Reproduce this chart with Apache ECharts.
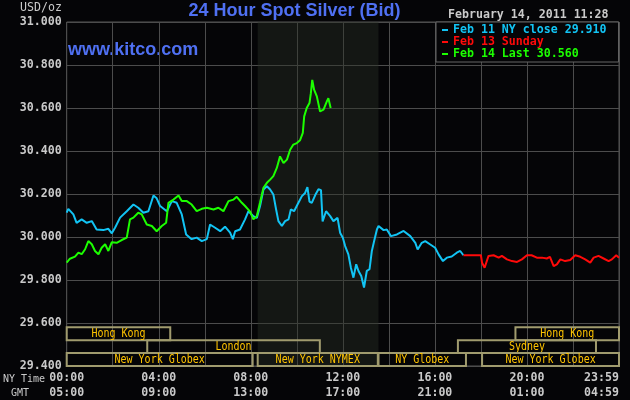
<!DOCTYPE html>
<html>
<head>
<meta charset="utf-8">
<script src="https://cdn.jsdelivr.net/npm/echarts@6/dist/echarts.min.js"></script>
<style>
  html, body { margin: 0; padding: 0; background: #050507; }
  #chart { width: 630px; height: 400px; }
</style>
</head>
<body>
<div id="chart"></div>
<script>
// ---------- data ----------
const seriesNames = ['Feb 11 NY close 29.910', 'Feb 13 Sunday', 'Feb 14 Last 30.560'];

const feb11Hours = [0, 0.07, 0.29, 0.43, 0.65, 0.87, 1.09, 1.30, 1.59, 1.81, 1.96, 2.10, 2.32, 2.61, 2.90, 3.11, 3.33, 3.55, 3.77, 3.91, 4.06, 4.35, 4.57, 4.78, 5.00, 5.19, 5.43, 5.65, 5.87, 6.09, 6.23, 6.45, 6.67, 6.88, 7.10, 7.22, 7.32, 7.53, 7.75, 7.90, 7.97, 8.11, 8.26, 8.40, 8.55, 8.70, 8.84, 8.98, 9.10, 9.20, 9.35, 9.49, 9.64, 9.74, 9.88, 10.03, 10.22, 10.36, 10.46, 10.55, 10.65, 10.80, 10.94, 11.05, 11.12, 11.27, 11.45, 11.59, 11.77, 11.88, 12.00, 12.10, 12.24, 12.35, 12.46, 12.58, 12.68, 12.80, 12.92, 13.04, 13.16, 13.26, 13.36, 13.48, 13.55, 13.77, 13.91, 14.09, 14.35, 14.64, 14.93, 15.15, 15.25, 15.43, 15.58, 15.80, 16.01, 16.16, 16.35, 16.52, 16.73, 16.95, 17.10, 17.24];
const feb11Values = [30.113, 30.131, 30.105, 30.066, 30.082, 30.066, 30.074, 30.035, 30.032, 30.038, 30.017, 30.043, 30.090, 30.120, 30.151, 30.136, 30.113, 30.120, 30.193, 30.180, 30.144, 30.120, 30.167, 30.159, 30.105, 30.012, 29.990, 29.997, 29.981, 29.990, 30.058, 30.043, 30.027, 30.048, 30.020, 29.990, 30.027, 30.035, 30.082, 30.120, 30.128, 30.097, 30.089, 30.143, 30.221, 30.236, 30.221, 30.198, 30.128, 30.074, 30.051, 30.074, 30.082, 30.128, 30.120, 30.151, 30.190, 30.205, 30.232, 30.165, 30.159, 30.195, 30.222, 30.218, 30.072, 30.120, 30.097, 30.074, 30.089, 30.020, 29.997, 29.958, 29.919, 29.857, 29.811, 29.873, 29.842, 29.819, 29.765, 29.842, 29.850, 29.935, 29.981, 30.035, 30.051, 30.032, 30.035, 30.004, 30.012, 30.028, 30.004, 29.973, 29.942, 29.973, 29.981, 29.965, 29.950, 29.919, 29.888, 29.904, 29.909, 29.927, 29.935, 29.915];

const feb13Hours = [17.24, 18.00, 18.05, 18.16, 18.33, 18.55, 18.77, 18.91, 19.13, 19.35, 19.57, 19.78, 20.00, 20.20, 20.43, 20.65, 20.86, 21.00, 21.16, 21.30, 21.45, 21.66, 21.88, 22.10, 22.32, 22.53, 22.75, 22.90, 23.11, 23.33, 23.55, 23.69, 23.88, 24.00];
const feb13Values = [29.915, 29.915, 29.880, 29.857, 29.912, 29.915, 29.904, 29.912, 29.896, 29.888, 29.884, 29.896, 29.915, 29.915, 29.904, 29.904, 29.900, 29.908, 29.865, 29.873, 29.896, 29.888, 29.893, 29.915, 29.908, 29.896, 29.881, 29.904, 29.912, 29.900, 29.888, 29.896, 29.915, 29.904];

const feb14Hours = [0, 0.14, 0.36, 0.51, 0.65, 0.80, 0.94, 1.09, 1.23, 1.38, 1.52, 1.67, 1.81, 1.96, 2.17, 2.39, 2.61, 2.75, 2.90, 3.11, 3.26, 3.48, 3.70, 3.91, 4.13, 4.32, 4.42, 4.64, 4.86, 5.00, 5.22, 5.43, 5.65, 5.87, 6.09, 6.38, 6.59, 6.81, 7.03, 7.25, 7.39, 7.61, 7.75, 7.97, 8.11, 8.26, 8.40, 8.55, 8.70, 8.84, 8.98, 9.13, 9.27, 9.42, 9.57, 9.71, 9.85, 10.00, 10.14, 10.26, 10.32, 10.43, 10.55, 10.61, 10.67, 10.75, 10.87, 10.94, 11.01, 11.16, 11.30, 11.37, 11.47];
const feb14Values = [29.881, 29.899, 29.909, 29.927, 29.920, 29.943, 29.981, 29.966, 29.935, 29.920, 29.950, 29.966, 29.935, 29.976, 29.973, 29.986, 29.997, 30.082, 30.090, 30.113, 30.105, 30.058, 30.051, 30.027, 30.051, 30.066, 30.159, 30.174, 30.193, 30.167, 30.167, 30.151, 30.120, 30.131, 30.136, 30.128, 30.136, 30.120, 30.167, 30.174, 30.187, 30.159, 30.144, 30.118, 30.082, 30.097, 30.159, 30.229, 30.252, 30.267, 30.283, 30.321, 30.375, 30.344, 30.360, 30.406, 30.430, 30.437, 30.450, 30.484, 30.561, 30.600, 30.623, 30.669, 30.731, 30.685, 30.654, 30.646, 30.584, 30.592, 30.630, 30.646, 30.600];

// x-axis tick labels (hours 0..24 step 4)
const nyTimeLabels = ['00:00', '04:00', '08:00', '12:00', '16:00', '20:00', '23:59'];
const gmtLabels    = ['05:00', '09:00', '13:00', '17:00', '21:00', '01:00', '04:59'];

// market sessions
const sessionNames = ['Hong Kong', 'Hong Kong', 'London', 'Sydney', 'New York Globex', 'New York NYMEX', 'NY Globex', 'New York Globex'];
const sessionStart = [0, 19.5, 3.5, 17.0, 0, 8.3, 13.55, 18.05];
const sessionEnd   = [4.5, 24, 11.0, 23.0, 8.08, 13.52, 17.35, 24];
const sessionRow   = [0, 0, 1, 1, 2, 2, 2, 2];

const nymexStart = 8.3, nymexEnd = 13.55;

// ---------- chart ----------
const mono = '"DejaVu Sans Mono", monospace';
const zip = (h, v) => h.map((x, i) => [x, v[i]]);
const colors = ['#12c4f4', '#ff0a0a', '#1cff00'];

const chart = echarts.init(document.getElementById('chart'), null, { renderer: 'canvas' });

const rowTops = [29.58, 29.52, 29.46];
const rowH = 0.06;

chart.setOption({
  backgroundColor: '#050507',
  animation: false,
  grid: { left: 66.7, right: 11, top: 22, bottom: 33, show: true, borderColor: '#555', borderWidth: 1, backgroundColor: 'transparent' },
  legend: {
    orient: 'vertical',
    left: 436, top: 22,
    icon: 'rect', itemWidth: 6, itemHeight: 2, itemGap: 0,
    padding: [2, 12, 2, 6],
    backgroundColor: '#050507', borderColor: '#666', borderWidth: 1,
    selectedMode: false,
    textStyle: { fontFamily: mono, fontSize: 11.6, fontWeight: 'bold', lineHeight: 12 },
    data: seriesNames.map((n, i) => ({ name: n, textStyle: { color: colors[i] } }))
  },
  xAxis: {
    type: 'value', min: 0, max: 24, interval: 2,
    axisLine: { show: false }, axisTick: { show: false },
    splitLine: { show: true, lineStyle: { color: '#4c4c4c', width: 1 } },
    axisLabel: {
      interval: 1, margin: 4, alignMaxLabel: 'right',
      color: '#cacaca', fontFamily: mono, fontSize: 11.6, fontWeight: 'bold', lineHeight: 15,
      formatter: v => { const i = Math.round(v / 4); return (v % 4 === 0) ? nyTimeLabels[i] + '\n' + gmtLabels[i] : ''; }
    }
  },
  yAxis: {
    type: 'value', min: 29.4, max: 31.0, interval: 0.2,
    axisLine: { show: false }, axisTick: { show: false },
    splitLine: { show: true, lineStyle: { color: '#4c4c4c', width: 1 } },
    axisLabel: { margin: 5, color: '#cacaca', fontFamily: mono, fontSize: 11.6, fontWeight: 'bold', formatter: v => v.toFixed(3) }
  },
  graphic: [
    { type: 'text', x: 294.5, y: 11, style: { text: '24 Hour Spot Silver (Bid)', fill: '#4f70f2', font: 'bold 18px "Liberation Sans", Arial, sans-serif', align: 'center', verticalAlign: 'middle' } },
    { type: 'text', x: 68, y: 50.5, style: { text: 'www.kitco.com', fill: '#4f70f2', font: 'bold 18px "Liberation Sans", Arial, sans-serif', align: 'left', verticalAlign: 'middle' } },
    { type: 'text', x: 448, y: 15, style: { text: 'February 14, 2011 11:28', fill: '#cacaca', font: 'bold 11.6px ' + mono, align: 'left', verticalAlign: 'middle' } },
    { type: 'text', x: 62, y: 8, style: { text: 'USD/oz', fill: '#cacaca', font: '11.6px ' + mono, align: 'right', verticalAlign: 'middle' } },
    { type: 'text', x: 24, y: 379, style: { text: 'NY Time', fill: '#cacaca', font: '10px ' + mono, align: 'center', verticalAlign: 'middle' } },
    { type: 'text', x: 20, y: 393, style: { text: 'GMT', fill: '#cacaca', font: '10px ' + mono, align: 'center', verticalAlign: 'middle' } }
  ],
  series: [
    {
      name: seriesNames[0], type: 'line', data: zip(feb11Hours, feb11Values),
      showSymbol: false, color: colors[0], lineStyle: { width: 2, color: colors[0] }, z: 3,
      markArea: { silent: true, itemStyle: { color: 'rgba(42,50,38,0.42)' }, data: [[{ xAxis: nymexStart }, { xAxis: nymexEnd }]] }
    },
    {
      name: seriesNames[1], type: 'line', data: zip(feb13Hours, feb13Values),
      showSymbol: false, color: colors[1], lineStyle: { width: 2, color: colors[1] }, z: 3
    },
    {
      name: seriesNames[2], type: 'line', data: zip(feb14Hours, feb14Values),
      showSymbol: false, color: colors[2], lineStyle: { width: 2, color: colors[2] }, z: 4
    },
    {
      type: 'custom', z: 5, silent: true,
      data: sessionNames.map((n, i) => [sessionStart[i], sessionEnd[i], sessionRow[i], n]),
      renderItem: (params, api) => {
        const s = api.value(0), e = api.value(1), r = api.value(2);
        const name = sessionNames[params.dataIndex];
        const p0 = api.coord([s, rowTops[r]]);
        const p1 = api.coord([e, rowTops[r] - rowH]);
        const w = p1[0] - p0[0], h = p1[1] - p0[1];
        const cx = p0[0] + w / 2, cy = p0[1] + h / 2 + 0.5;
        return {
          type: 'group',
          children: [
            { type: 'rect', shape: { x: p0[0], y: p0[1], width: w, height: h }, style: { fill: null, stroke: '#a09b6e', lineWidth: 2 } },
            { type: 'text', x: cx, y: cy, scaleY: 1.2, style: { text: name, x: 0, y: 0, align: 'center', verticalAlign: 'middle', fill: '#ffc400', font: '10px ' + mono } }
          ]
        };
      }
    }
  ]
});
</script>
</body>
</html>
